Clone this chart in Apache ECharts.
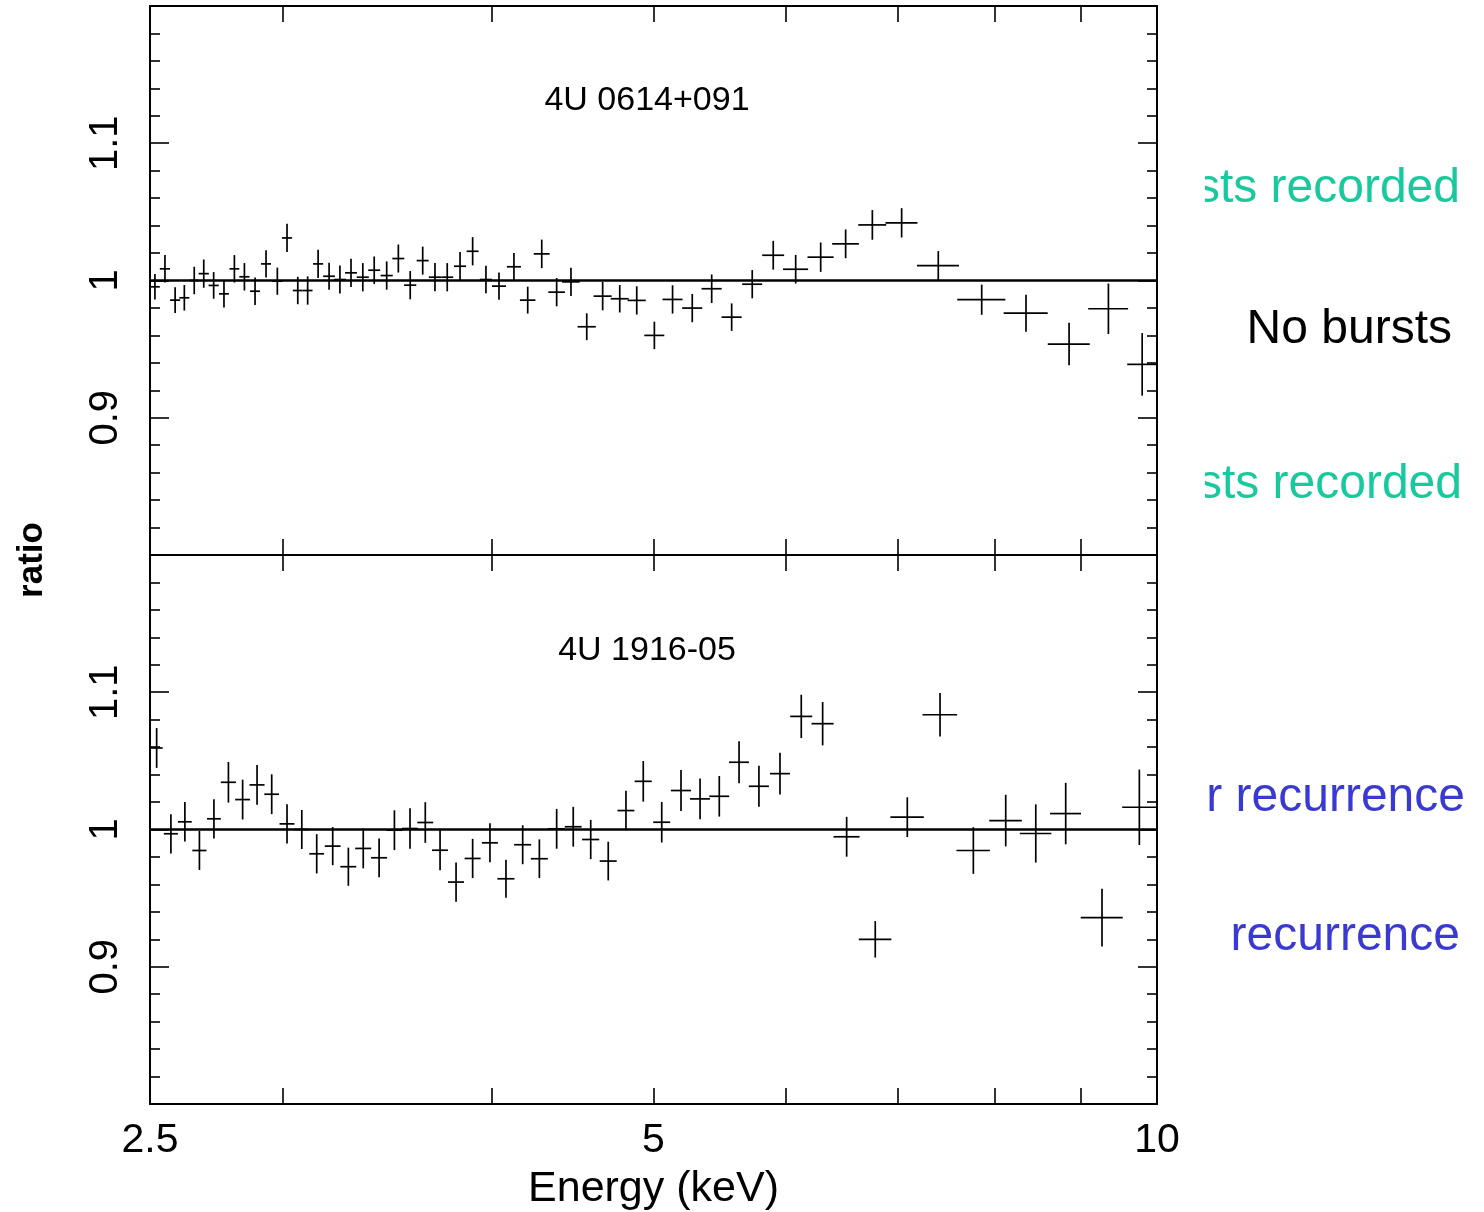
<!DOCTYPE html>
<html lang="en">
<head>
<meta charset="UTF-8">
<title>ratio spectra</title>
<style>
  html, body { margin: 0; padding: 0; background: #fff; }
  #chart { width: 1484px; height: 1212px; }
</style>
</head>
<body>
<div id="chart"></div>
<script src="https://cdn.jsdelivr.net/npm/echarts@6.0.0/dist/echarts.min.js"></script>
<script>
// 4U 0614+091 : energy (keV), bin half width, ratio, 1-sigma error
var topEnergy = [2.517,2.552,2.588,2.621,2.657,2.692,2.729,2.768,2.808,2.847,
  2.889,2.933,2.979,3.019,3.064,3.106,3.151,3.199,3.247,3.297,
  3.351,3.404,3.463,3.519,3.577,3.639,3.701,3.764,3.831,3.898,
  3.970,4.042,4.126,4.205,4.287,4.376,4.463,4.561,4.662,4.773,
  4.886,5.006,5.133,5.274,5.417,5.568,5.728,5.896,6.081,6.294,
  6.514,6.758,7.036,7.400,7.856,8.350,8.860,9.353,9.798];
var topHalfWidth = [0.017,0.018,0.018,0.018,0.018,0.019,0.019,0.019,0.019,0.020,
  0.020,0.020,0.021,0.021,0.021,0.021,0.022,0.026,0.027,0.027,
  0.028,0.028,0.029,0.029,0.030,0.030,0.031,0.031,0.032,0.032,
  0.033,0.039,0.040,0.045,0.047,0.050,0.054,0.057,0.058,0.059,
  0.061,0.069,0.071,0.073,0.075,0.077,0.079,0.089,0.105,0.113,
  0.120,0.130,0.155,0.214,0.260,0.253,0.256,0.257,0.200];
var topRatio = [0.9954,1.0085,0.9857,0.9874,1.0,1.005,0.9964,0.9903,1.0085,1.0027,
  0.9922,1.0121,0.9995,1.031,0.9927,0.9927,1.0121,1.0031,1.0007,1.0056,
  1.0024,1.0075,1.0036,1.016,0.9966,1.0145,1.0024,1.0024,1.0104,1.0213,
  1.0007,0.9959,1.01,0.9857,1.0194,0.9915,0.999,0.9663,0.9886,0.9867,
  0.9855,0.96,0.9862,0.9799,0.994,0.9733,0.9973,1.0184,1.0082,1.017,
  1.0267,1.0405,1.042,1.0109,0.986,0.9762,0.9537,0.9794,0.9389];
var topErr = [0.0093,0.010,0.0093,0.0093,0.010,0.0103,0.0097,0.0099,0.010,0.010,
  0.010,0.010,0.0099,0.0103,0.010,0.0103,0.0103,0.0099,0.0102,0.0103,
  0.0103,0.010,0.0103,0.0102,0.0103,0.0102,0.0103,0.0103,0.0103,0.0103,
  0.010,0.010,0.010,0.0098,0.0104,0.0103,0.0103,0.0098,0.0103,0.010,
  0.0103,0.010,0.0103,0.0103,0.0104,0.010,0.0103,0.0105,0.0104,0.0107,
  0.0105,0.0108,0.0107,0.0105,0.011,0.0135,0.0155,0.0184,0.0228];

// 4U 1916-05
var botEnergy = [2.523,2.573,2.623,2.676,2.730,2.785,2.840,2.897,2.956,3.019,
  3.081,3.145,3.215,3.285,3.353,3.427,3.500,3.576,3.652,3.727,
  3.810,3.898,3.992,4.081,4.176,4.273,4.376,4.477,4.586,4.698,
  4.814,4.930,5.057,5.193,5.331,5.474,5.625,5.781,5.951,6.128,
  6.311,6.523,6.785,7.091,7.418,7.766,8.120,8.463,8.819,9.271,
  9.760];
var botHalfWidth = [0.021,0.025,0.025,0.026,0.026,0.029,0.029,0.030,0.030,0.031,
  0.032,0.032,0.035,0.036,0.037,0.038,0.039,0.039,0.040,0.041,
  0.042,0.043,0.044,0.048,0.049,0.050,0.051,0.052,0.054,0.055,
  0.056,0.058,0.059,0.072,0.073,0.075,0.077,0.080,0.082,0.093,
  0.096,0.117,0.152,0.163,0.177,0.179,0.182,0.184,0.188,0.268,
  0.228];
var botRatio = [1.0594,0.9969,1.0056,0.9847,1.0078,1.0344,1.0218,1.0325,1.0257,1.0041,
  1.0,0.9823,0.9879,0.9729,0.9862,0.9794,0.9995,1.0007,1.0051,0.9849,
  0.9617,0.9789,0.9903,0.9641,0.9889,0.9787,1.0005,1.002,0.9927,0.977,
  1.0138,1.0351,1.0053,1.0284,1.0223,1.0242,1.049,1.0315,1.0407,1.0824,
  1.0771,0.9947,0.92,1.009,1.0836,0.9847,1.0065,0.9971,1.0116,0.9358,
  1.0162];
var botErr = [0.0145,0.0143,0.0144,0.0142,0.0143,0.0148,0.0145,0.0145,0.0145,0.0143,
  0.0142,0.0143,0.0139,0.0139,0.0145,0.0141,0.0145,0.0148,0.0148,0.0145,
  0.0143,0.0143,0.0142,0.0138,0.0142,0.0141,0.0145,0.0145,0.0143,0.0141,
  0.0144,0.0148,0.0148,0.0149,0.0148,0.0148,0.0153,0.015,0.0152,0.0158,
  0.0158,0.0145,0.0133,0.0145,0.0158,0.017,0.0188,0.0212,0.0224,0.0211,
  0.0275];

var panelNames = ['4U 0614+091', '4U 1916-05'];
var xTickEnergies = [3, 4, 5, 6, 7, 8, 9];
var xLabelEnergies = [2.5, 5, 10];
var yLabelValues = [0.9, 1, 1.1];
var modelRatio = 1;

var FONT = "'Liberation Sans', Arial, sans-serif";
var lg = function (v) { return Math.log10(v); };

function pack(e, de, r, er) {
  var out = [];
  for (var i = 0; i < e.length; i++) out.push([e[i], de[i], r[i], er[i]]);
  return out;
}

// error-bar cross: horizontal = bin width, vertical = error
function renderCross(params, api) {
  var e = api.value(0), de = api.value(1), r = api.value(2), er = api.value(3);
  var a = api.coord([e - de, r]), b = api.coord([e + de, r]);
  var c = api.coord([e, r - er]), d = api.coord([e, r + er]);
  var st = { stroke: '#000', lineWidth: 1.7 };
  return {
    type: 'group',
    children: [
      { type: 'line', shape: { x1: a[0], y1: a[1], x2: b[0], y2: b[1] }, style: st },
      { type: 'line', shape: { x1: c[0], y1: c[1], x2: d[0], y2: d[1] }, style: st }
    ]
  };
}

var xAxes = [], yAxes = [];
[0, 1].forEach(function (g) {
  ['bottom', 'top'].forEach(function (pos) {
    var showLab = (g === 1 && pos === 'bottom');
    xAxes.push({
      gridIndex: g, type: 'value', position: pos,
      min: lg(2.5), max: 1,
      axisLine: { show: true, onZero: false, lineStyle: { color: '#000', width: 2 } },
      axisTick: { show: true, inside: true, length: 16, customValues: xTickEnergies.map(lg),
        lineStyle: { color: '#000', width: 1.6 } },
      axisLabel: { show: showLab, customValues: xLabelEnergies.map(lg), margin: 16,
        fontSize: 41, color: '#000', fontFamily: FONT,
        formatter: function (v) { return String(+Math.pow(10, v).toFixed(1)); } },
      splitLine: { show: false },
      name: showLab ? 'Energy (keV)' : '',
      nameLocation: 'middle', nameGap: 64,
      nameTextStyle: { fontSize: 43, color: '#000', fontFamily: FONT }
    });
  });
  // data axis (log energy), hidden
  xAxes.push({ gridIndex: g, type: 'log', logBase: 10, min: 2.5, max: 10, show: false });

  ['left', 'right'].forEach(function (pos) {
    yAxes.push({
      gridIndex: g, type: 'value', position: pos,
      min: 0.8, max: 1.2, interval: 0.1,
      axisLine: { show: true, onZero: false, lineStyle: { color: '#000', width: 2 } },
      axisTick: { show: true, inside: true, length: 19, lineStyle: { color: '#000', width: 1.6 } },
      minorTick: { show: true, splitNumber: 5, length: 10, lineStyle: { color: '#000', width: 1.6 } },
      axisLabel: { show: pos === 'left', customValues: yLabelValues, rotate: 90, margin: 24,
        fontSize: 40, color: '#000', fontFamily: FONT },
      splitLine: { show: false }
    });
  });
});

var sideFont = '48px ' + FONT;
var option = {
  animation: false,
  backgroundColor: '#fff',
  grid: [
    { left: 150, top: 6, width: 1007, height: 549, outerBoundsMode: 'none' },
    { left: 150, top: 555, width: 1007, height: 549, outerBoundsMode: 'none' }
  ],
  xAxis: xAxes,
  yAxis: yAxes,
  series: [
    {
      type: 'custom', xAxisIndex: 2, yAxisIndex: 0, clip: true,
      data: pack(topEnergy, topHalfWidth, topRatio, topErr),
      encode: { x: 0, y: 2 },
      renderItem: renderCross,
      markLine: { silent: true, symbol: 'none', label: { show: false },
        lineStyle: { color: '#000', width: 2.5, type: 'solid' }, data: [{ yAxis: modelRatio }] }
    },
    {
      type: 'custom', xAxisIndex: 5, yAxisIndex: 2, clip: true,
      data: pack(botEnergy, botHalfWidth, botRatio, botErr),
      encode: { x: 0, y: 2 },
      renderItem: renderCross,
      markLine: { silent: true, symbol: 'none', label: { show: false },
        lineStyle: { color: '#000', width: 2.5, type: 'solid' }, data: [{ yAxis: modelRatio }] }
    }
  ],
  graphic: [
    { type: 'text', x: 647, y: 101, style: { text: panelNames[0], font: '34px ' + FONT, fill: '#000', align: 'center', verticalAlign: 'middle' } },
    { type: 'text', x: 647, y: 651, style: { text: panelNames[1], font: '34px ' + FONT, fill: '#000', align: 'center', verticalAlign: 'middle' } },
    { type: 'text', x: 32, y: 560, rotation: Math.PI / 2, style: { text: 'ratio', font: 'bold 35px ' + FONT, fill: '#000', align: 'center', verticalAlign: 'middle' } },
    { type: 'text', x: 1460, y: 189, style: { text: 'sts recorded', font: sideFont, fill: '#17c99c', align: 'right', verticalAlign: 'middle' } },
    { type: 'text', x: 1452, y: 330, style: { text: 'No bursts', font: sideFont, fill: '#000', align: 'right', verticalAlign: 'middle' } },
    { type: 'text', x: 1462, y: 485, style: { text: 'sts recorded', font: sideFont, fill: '#17c99c', align: 'right', verticalAlign: 'middle' } },
    { type: 'text', x: 1465, y: 798, style: { text: 'r recurrence', font: sideFont, fill: '#3a3ad2', align: 'right', verticalAlign: 'middle' } },
    { type: 'text', x: 1460, y: 937, style: { text: 'recurrence', font: sideFont, fill: '#3a3ad2', align: 'right', verticalAlign: 'middle' } },
    // clip the partly hidden first glyph of the green lines
    { type: 'rect', z: 100, shape: { x: 1162, y: 150, width: 43, height: 80 }, style: { fill: '#fff' } },
    { type: 'rect', z: 100, shape: { x: 1162, y: 446, width: 43, height: 80 }, style: { fill: '#fff' } }
  ]
};

var chart = echarts.init(document.getElementById('chart'));
chart.setOption(option);
</script>
</body>
</html>
